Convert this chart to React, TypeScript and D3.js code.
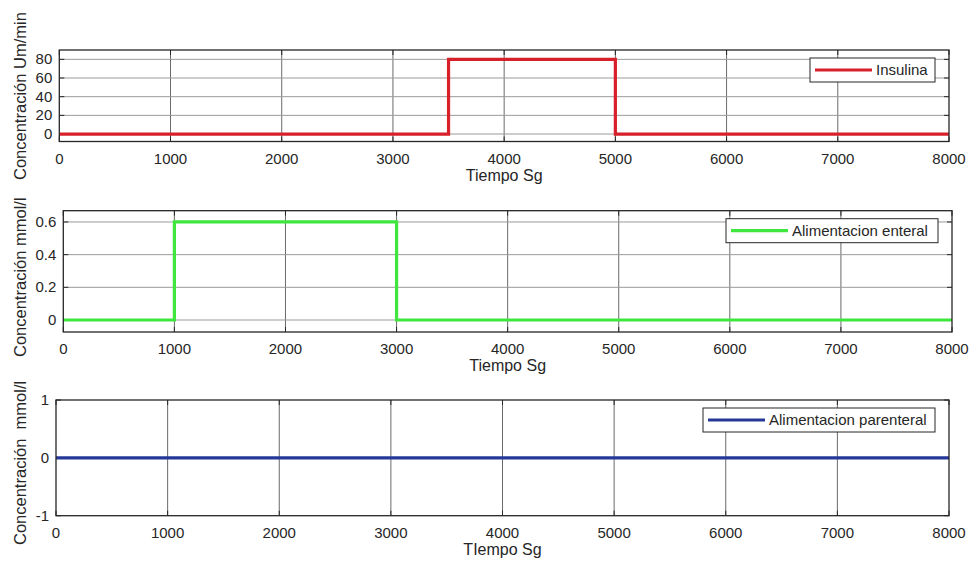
import * as d3 from 'd3';

// x axis shared by the three subplots
const xTicks = [0, 1000, 2000, 3000, 4000, 5000, 6000, 7000, 8000];

// step signals (time in s, value)
const insulinaTime = [0, 3500, 3500, 5000, 5000, 8000];
const insulinaValue = [0, 0, 80, 80, 0, 0];
const enteralTime = [0, 1000, 1000, 3000, 3000, 8000];
const enteralValue = [0, 0, 0.6, 0.6, 0, 0];
const parenteralTime = [0, 8000];
const parenteralValue = [0, 0];

const insulinaTicks = [0, 20, 40, 60, 80];
const enteralTicks = [0, 0.2, 0.4, 0.6];
const parenteralTicks = [-1, 0, 1];

const seriesNames = ['Insulina', 'Alimentacion enteral', 'Alimentacion parenteral'];
const yLabels = ['Concentración Um/min', 'Concentración mmol/l', 'Concentración  mmol/l'];
const xLabels = ['Tiempo Sg', 'Tiempo Sg', 'TIempo Sg'];

const W = 969;
const H = 565;
const FONT = '"Liberation Sans", Arial, Helvetica, sans-serif';
const INK = '#262626';

type Panel = {
  left: number;
  right: number;
  top: number;
  bottom: number;
  yDomain: [number, number];
  yTicks: number[];
  t: number[];
  v: number[];
  color: string;
  legendW: number;
  labelStart: number;
  labelClip: number;
};

const panels: Panel[] = [
  {
    left: 59.3, right: 949, top: 50, bottom: 141.5, yDomain: [-8, 90], yTicks: insulinaTicks,
    t: insulinaTime, v: insulinaValue, color: '#d7202a', legendW: 125, labelStart: 180, labelClip: 0,
  },
  {
    left: 63.3, right: 952, top: 210.7, bottom: 332, yDomain: [-0.0735, 0.669], yTicks: enteralTicks,
    t: enteralTime, v: enteralValue, color: '#3ee63e', legendW: 212, labelStart: 357, labelClip: 193,
  },
  {
    left: 56, right: 949, top: 400, bottom: 515.7, yDomain: [-1, 1], yTicks: parenteralTicks,
    t: parenteralTime, v: parenteralValue, color: '#25389a', legendW: 232, labelStart: 545, labelClip: 372,
  },
];

function Subplot({ p, i }: { p: Panel; i: number }) {
  const x = d3.scaleLinear().domain([0, 8000]).range([p.left, p.right]);
  const y = d3.scaleLinear().domain(p.yDomain).range([p.bottom, p.top]);
  const pts = p.t.map((t, k) => [t, p.v[k]] as [number, number]);
  const path = d3.line<[number, number]>().x((d) => x(d[0])).y((d) => y(d[1]))(pts) ?? '';
  const tl = 5;
  const lgRight = p.right - 14;
  const lgTop = p.top + 8;
  const lgH = 24;
  const lgLeft = lgRight - p.legendW;
  const cx = (p.left + p.right) / 2;

  return (
    <g>
      <defs>
        <clipPath id={`lab${i}`}>
          <rect x={0} y={p.labelClip} width={60} height={H} />
        </clipPath>
      </defs>
      <rect x={p.left} y={p.top} width={p.right - p.left} height={p.bottom - p.top} fill="#fff" />
      {/* grid */}
      {xTicks.slice(1, -1).map((t) => (
        <line key={`gx${t}`} x1={x(t)} x2={x(t)} y1={p.top} y2={p.bottom} stroke="#6a6a6a" strokeWidth={1} />
      ))}
      {i < 2 &&
        p.yTicks.map((t) => (
          <line key={`gy${t}`} x1={p.left} x2={p.right} y1={y(t)} y2={y(t)} stroke="#9a9a9a" strokeWidth={1} />
        ))}
      {/* tick marks */}
      {xTicks.map((t) => (
        <g key={`tx${t}`}>
          <line x1={x(t)} x2={x(t)} y1={p.bottom} y2={p.bottom - tl} stroke={INK} />
          <line x1={x(t)} x2={x(t)} y1={p.top} y2={p.top + tl} stroke={INK} />
        </g>
      ))}
      {p.yTicks.map((t) => (
        <g key={`ty${t}`}>
          <line x1={p.left} x2={p.left + tl} y1={y(t)} y2={y(t)} stroke={INK} />
          <line x1={p.right} x2={p.right - tl} y1={y(t)} y2={y(t)} stroke={INK} />
        </g>
      ))}
      <path d={path} fill="none" stroke={p.color} strokeWidth={3.2} strokeLinejoin="miter" />
      <rect x={p.left} y={p.top} width={p.right - p.left} height={p.bottom - p.top} fill="none" stroke={INK} strokeWidth={1.3} />
      {/* tick labels */}
      {xTicks.map((t) => (
        <text key={`lx${t}`} x={x(t)} y={p.bottom + 22} textAnchor="middle" fontSize={15} fill={INK}>
          {t}
        </text>
      ))}
      {p.yTicks.map((t) => (
        <text key={`ly${t}`} x={p.left - 7} y={y(t) + 5} textAnchor="end" fontSize={15} fill={INK}>
          {t}
        </text>
      ))}
      <text x={cx} y={p.bottom + 39} textAnchor="middle" fontSize={16} fill={INK}>
        {xLabels[i]}
      </text>
      <g clipPath={`url(#lab${i})`}>
        <text
          transform={`translate(26,${p.labelStart}) rotate(-90)`}
          textAnchor="start"
          fontSize={16.5}
          fill={INK}
          style={{ whiteSpace: 'pre' }}
        >
          {yLabels[i]}
        </text>
      </g>
      {/* legend */}
      <rect x={lgLeft} y={lgTop} width={p.legendW} height={lgH} fill="#fff" stroke={INK} strokeWidth={1} />
      <line x1={lgLeft + 5} x2={lgLeft + 62} y1={lgTop + lgH / 2} y2={lgTop + lgH / 2} stroke={p.color} strokeWidth={3.2} />
      <text x={lgLeft + 66} y={lgTop + lgH / 2 + 5} fontSize={15} fill={INK}>
        {seriesNames[i]}
      </text>
    </g>
  );
}

export default function App() {
  return (
    <svg
      width={W}
      height={H}
      viewBox={`0 0 ${W} ${H}`}
      style={{ position: 'absolute', left: 0, top: 0, background: '#fff', fontFamily: FONT }}
    >
      <rect width={W} height={H} fill="#fff" />
      {panels.map((p, i) => (
        <Subplot key={i} p={p} i={i} />
      ))}
    </svg>
  );
}
